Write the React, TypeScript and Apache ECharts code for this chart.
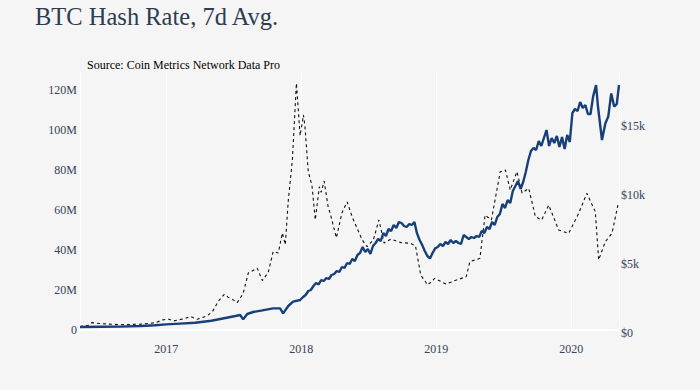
import React, { useEffect, useRef } from "react";
import * as echarts from "echarts";

const TITLE = "BTC Hash Rate, 7d Avg.";
const SOURCE = "Source: Coin Metrics Network Data Pro";

const X_MIN = "2016-05-13";
const X_MAX = "2020-05-09";

const hashDates = [
  "2016-05-13", "2016-07-07", "2016-08-30", "2016-10-23", "2016-12-02", "2017-01-01",
  "2017-02-08", "2017-03-20", "2017-05-03", "2017-06-10", "2017-07-07", "2017-07-20",
  "2017-07-28", "2017-08-08", "2017-08-24", "2017-09-18", "2017-10-17", "2017-11-05",
  "2017-11-13", "2017-11-27", "2017-12-10", "2017-12-29",
  "2018-01-06", "2018-01-13", "2018-01-20", "2018-01-27", "2018-02-03", "2018-02-10",
  "2018-02-17", "2018-02-24", "2018-03-03", "2018-03-10", "2018-03-17", "2018-03-24",
  "2018-03-31", "2018-04-07", "2018-04-14", "2018-04-21", "2018-04-28", "2018-05-05",
  "2018-05-12", "2018-05-19", "2018-05-26", "2018-06-02", "2018-06-09", "2018-06-16",
  "2018-06-23", "2018-06-30", "2018-07-07", "2018-07-14", "2018-07-21", "2018-07-28",
  "2018-08-04", "2018-08-11", "2018-08-18", "2018-08-25", "2018-09-01", "2018-09-08",
  "2018-09-15", "2018-09-22", "2018-09-29", "2018-10-06", "2018-10-13", "2018-10-20",
  "2018-10-27", "2018-11-03", "2018-11-10", "2018-11-17", "2018-11-24", "2018-12-01",
  "2018-12-08", "2018-12-15", "2018-12-22", "2018-12-29",
  "2019-01-05", "2019-01-12", "2019-01-19", "2019-01-26", "2019-02-02", "2019-02-09",
  "2019-02-16", "2019-02-23", "2019-03-02", "2019-03-09", "2019-03-16", "2019-03-23",
  "2019-03-30", "2019-04-06", "2019-04-13", "2019-04-20", "2019-04-27", "2019-05-04",
  "2019-05-11", "2019-05-18", "2019-05-25", "2019-06-01", "2019-06-08", "2019-06-15",
  "2019-06-22", "2019-06-29", "2019-07-06", "2019-07-13", "2019-07-20", "2019-07-27",
  "2019-08-03", "2019-08-10", "2019-08-17", "2019-08-24", "2019-08-31", "2019-09-07",
  "2019-09-14", "2019-09-21", "2019-09-28", "2019-10-05", "2019-10-12", "2019-10-19",
  "2019-10-26", "2019-11-02", "2019-11-09", "2019-11-16", "2019-11-23", "2019-11-30",
  "2019-12-07", "2019-12-14", "2019-12-21", "2019-12-28",
  "2020-01-04", "2020-01-11", "2020-01-18", "2020-01-25", "2020-02-01", "2020-02-08",
  "2020-02-15", "2020-02-22", "2020-02-29", "2020-03-08", "2020-03-13", "2020-03-24",
  "2020-04-02", "2020-04-10", "2020-04-18", "2020-04-26", "2020-05-03", "2020-05-09"
];
// Hash rate, millions (TH/s)
const hashValues = [
  1.5, 1.6, 1.7, 2.0, 2.4, 2.8,
  3.2, 3.6, 4.6, 6.0, 7.0, 7.5,
  5.3, 8.0, 9.0, 9.8, 10.8, 10.8,
  8.3, 12.0, 14.2, 15.0,
  16.5, 17.5, 19.5, 20.0, 22.0, 23.5,
  22.8, 25.0, 24.5, 26.0, 25.5, 27.5,
  28.0, 29.5, 29.0, 31.5, 31.0, 33.5,
  33.0, 35.5, 34.5, 37.5, 38.5, 41.5,
  39.0, 40.5, 38.0, 42.0, 43.5, 45.5,
  44.5, 48.5, 47.0, 50.5, 49.5, 52.5,
  51.0, 54.0, 53.5, 52.0, 51.5, 53.0,
  52.5, 54.0, 48.3, 45.0, 42.5, 39.5,
  37.0, 35.8, 38.5, 40.8,
  41.5, 43.0, 42.0, 44.0, 43.0, 45.0,
  43.5, 44.5, 43.5, 43.0, 47.5, 46.5,
  45.5, 46.5, 46.0, 47.0, 46.5, 49.5,
  48.5, 51.5, 50.5, 54.0, 52.5, 56.5,
  58.0, 63.0, 61.0, 65.0, 63.5, 69.5,
  72.0, 74.5, 70.5, 74.0, 79.0, 85.0,
  89.5, 91.0, 90.0, 94.5, 92.0, 96.0,
  100.0, 92.0, 96.0, 93.5, 97.0, 91.5,
  96.5, 90.5, 97.5, 94.0,
  108.5, 110.5, 109.5, 114.0, 111.0, 112.5,
  108.0, 108.0, 116.7, 122.5, 112.0, 95.0,
  103.3, 106.7, 118.3, 111.7, 113.0, 122.5
];

const priceDates = [
  "2016-05-13", "2016-06-04", "2016-06-13", "2016-07-07", "2016-08-30", "2016-10-23",
  "2016-12-02", "2016-12-23", "2017-01-06", "2017-01-22", "2017-02-21", "2017-03-07",
  "2017-03-26", "2017-04-22", "2017-05-06", "2017-05-22", "2017-06-07", "2017-06-17",
  "2017-07-01", "2017-07-12", "2017-07-28", "2017-08-11", "2017-09-04", "2017-09-18",
  "2017-10-04", "2017-10-17", "2017-10-31", "2017-11-11", "2017-11-19", "2017-11-27",
  "2017-12-08", "2017-12-19", "2017-12-29", "2018-01-07", "2018-01-11", "2018-01-20",
  "2018-01-30", "2018-02-08", "2018-02-19", "2018-02-24", "2018-03-04", "2018-03-15",
  "2018-03-20", "2018-04-06", "2018-04-21", "2018-05-05", "2018-05-19", "2018-06-01",
  "2018-06-15", "2018-06-28", "2018-07-15", "2018-07-30", "2018-08-13", "2018-08-31",
  "2018-09-28", "2018-10-24", "2018-11-06", "2018-11-20", "2018-12-09", "2018-12-28",
  "2019-01-27", "2019-02-21", "2019-03-23", "2019-04-02", "2019-04-29", "2019-05-13",
  "2019-05-30", "2019-06-23", "2019-07-07", "2019-07-20", "2019-08-07", "2019-08-21",
  "2019-09-08", "2019-09-26", "2019-10-13", "2019-11-01", "2019-11-28", "2019-12-25",
  "2020-01-21", "2020-02-12", "2020-03-06", "2020-03-15", "2020-04-02", "2020-04-20",
  "2020-05-06"
];
// BTC price, USD
const priceValues = [
  460, 560, 750, 680, 600, 640,
  740, 950, 1020, 880, 1050, 1200,
  1000, 1250, 1550, 2300, 2800, 2600,
  2400, 2200, 2870, 4350, 4700, 3800,
  4400, 5900, 5800, 7250, 6400, 9600,
  12500, 18100, 14300, 15800, 15000, 11700,
  10700, 8200, 10600, 10200, 11000, 9100,
  8700, 6900, 8700, 9500, 8400, 7600,
  6740, 6250, 6740, 8190, 6520, 6800,
  6550, 6500, 6300, 4200, 3480, 3960,
  3550, 3800, 4080, 5170, 5410, 8550,
  8190, 11690, 11810, 10360, 11690, 10140,
  10480, 8430, 8190, 9270, 7460, 7220,
  8670, 10120, 8790, 5290, 6620, 7220,
  9270
];

const LEFT_TICKS = [0, 20, 40, 60, 80, 100, 120];
const RIGHT_TICKS = [0, 5000, 10000, 15000];

const FONT = "'Liberation Serif', 'Times New Roman', serif";
const TITLE_COLOR = "#2e3b50";
const LABEL_COLOR = "#36435a";

export default function App() {
  const ref = useRef<HTMLDivElement>(null);
  useEffect(() => {
    if (!ref.current) return;
    const chart = echarts.init(ref.current, null, { renderer: "svg" });
    const hashData = hashDates.map((d, i) => [d, hashValues[i] * 1e6]);
    const priceData = priceDates.map((d, i) => [d, priceValues[i]]);
    chart.setOption({
      animation: false,
      backgroundColor: "#f5f5f5",
      textStyle: { fontFamily: FONT },
      title: [
        {
          text: TITLE,
          left: 35,
          top: 4,
          padding: 0,
          textStyle: { fontFamily: FONT, fontSize: 24.5, fontWeight: "normal", color: TITLE_COLOR },
        },
        {
          text: SOURCE,
          left: 87,
          top: 59,
          padding: 0,
          textStyle: { fontFamily: FONT, fontSize: 12, fontWeight: "normal", color: "#000" },
        },
      ],
      grid: [
        { left: 80, right: 81, top: 73, bottom: 60 },
        { left: 80, right: 81, top: 73, bottom: 57 },
      ],
      xAxis: [
        {
          type: "time",
          gridIndex: 0,
          min: X_MIN,
          max: X_MAX,
          minInterval: 365 * 86400000,
          axisLine: { show: true, lineStyle: { color: "#ffffff", width: 2 } },
          axisTick: { show: false },
          splitLine: { show: true, lineStyle: { color: "#ffffff", width: 1 } },
          axisLabel: {
            margin: 13,
            fontSize: 12,
            fontFamily: FONT,
            color: LABEL_COLOR,
            formatter: (v: number) => {
              const d = new Date(v);
              return d.getMonth() === 0 && d.getDate() === 1 ? String(d.getFullYear()) : "";
            },
          },
        },
        {
          type: "time",
          gridIndex: 1,
          min: X_MIN,
          max: X_MAX,
          show: false,
        },
      ],
      yAxis: [
        {
          type: "value",
          gridIndex: 0,
          position: "left",
          min: 0,
          max: 128.5e6,
          interval: 20e6,
          axisLine: { show: false },
          axisTick: { show: false },
          splitLine: { show: false },
          axisLabel: {
            margin: 3,
            fontSize: 12,
            fontFamily: FONT,
            color: LABEL_COLOR,
            formatter: (v: number) => {
              const m = Math.round(v / 1e6);
              if (!LEFT_TICKS.includes(m) || Math.abs(v - m * 1e6) > 1) return "";
              return m === 0 ? "0" : m + "M";
            },
          },
        },
        {
          type: "value",
          gridIndex: 1,
          position: "right",
          min: 0,
          max: 18840,
          interval: 5000,
          axisLine: { show: false },
          axisTick: { show: false },
          splitLine: { show: false },
          axisLabel: {
            margin: 2,
            fontSize: 12,
            fontFamily: FONT,
            color: LABEL_COLOR,
            formatter: (v: number) => {
              if (!RIGHT_TICKS.includes(v)) return "";
              return v === 0 ? "$0" : "$" + v / 1000 + "k";
            },
          },
        },
      ],
      series: [
        {
          name: "Price",
          type: "line",
          xAxisIndex: 1,
          yAxisIndex: 1,
          data: priceData,
          showSymbol: false,
          symbol: "none",
          z: 2,
          lineStyle: { color: "#111111", width: 1.1, type: [3, 3] },
        },
        {
          name: "Hash Rate",
          type: "line",
          xAxisIndex: 0,
          yAxisIndex: 0,
          data: hashData,
          showSymbol: false,
          symbol: "none",
          z: 3,
          lineStyle: { color: "#173f78", width: 2.4 },
        },
      ],
    });
    return () => chart.dispose();
  }, []);
  return (
    <div
      ref={ref}
      style={{ position: "fixed", left: 0, top: 0, width: 700, height: 390 }}
    />
  );
}
